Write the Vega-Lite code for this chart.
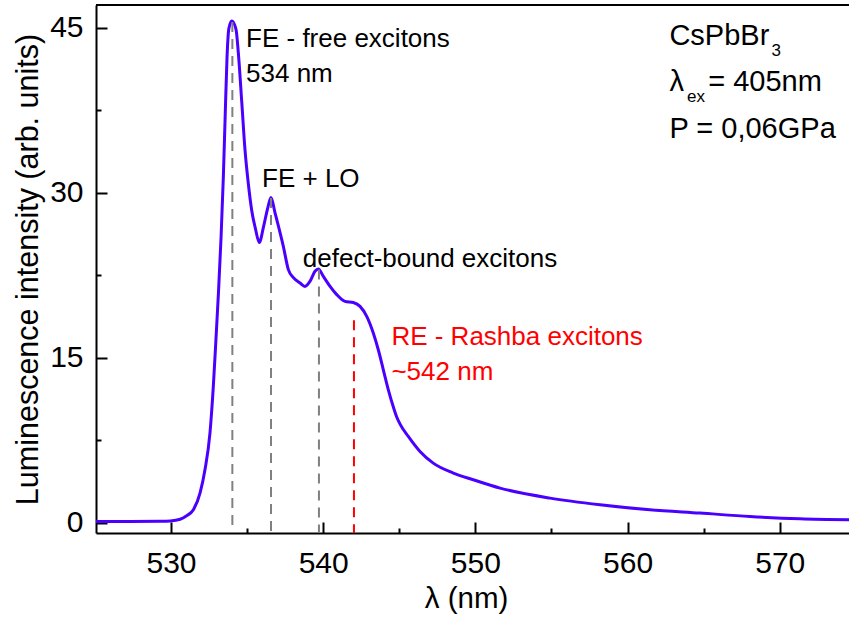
{
  "$schema": "https://vega.github.io/schema/vega-lite/v6.json",
  "autosize": "none",
  "width": 753,
  "height": 528,
  "padding": {"left": 96, "top": 5, "right": 0, "bottom": 86},
  "background": "white",
  "config": {
    "view": {"stroke": null},
    "font": "Liberation Sans",
    "axis": {"labelFont": "Liberation Sans", "titleFont": "Liberation Sans", "labelColor": "black", "titleColor": "black", "titleFontWeight": "normal", "domainColor": "black", "tickColor": "black", "grid": false}
  },
  "resolve": {"axis": {"x": "independent", "y": "independent"}},
  "datasets": {
    "spectrum": [
      {"nm": 525.07, "I": 0.1}, {"nm": 527.3, "I": 0.1}, {"nm": 529.3, "I": 0.12}, {"nm": 529.95, "I": 0.15},
      {"nm": 530.6, "I": 0.3}, {"nm": 531.0, "I": 0.6}, {"nm": 531.47, "I": 1.16}, {"nm": 531.91, "I": 2.7},
      {"nm": 532.23, "I": 4.8}, {"nm": 532.56, "I": 8.16}, {"nm": 532.78, "I": 12.4}, {"nm": 532.95, "I": 16.6},
      {"nm": 533.12, "I": 21.0}, {"nm": 533.29, "I": 26.0}, {"nm": 533.44, "I": 31.5}, {"nm": 533.57, "I": 37.5},
      {"nm": 533.68, "I": 42.3}, {"nm": 533.8, "I": 44.9}, {"nm": 533.99, "I": 45.59}, {"nm": 534.27, "I": 44.83},
      {"nm": 534.42, "I": 42.74}, {"nm": 534.65, "I": 38.19}, {"nm": 534.86, "I": 33.9}, {"nm": 535.08, "I": 30.8},
      {"nm": 535.3, "I": 28.4}, {"nm": 535.55, "I": 26.7}, {"nm": 535.8, "I": 25.45}, {"nm": 536.08, "I": 26.9},
      {"nm": 536.33, "I": 28.45}, {"nm": 536.57, "I": 29.55}, {"nm": 536.83, "I": 28.18}, {"nm": 537.38, "I": 25.11},
      {"nm": 537.71, "I": 22.99}, {"nm": 538.04, "I": 22.27}, {"nm": 538.48, "I": 21.78}, {"nm": 538.8, "I": 21.47},
      {"nm": 539.13, "I": 21.93}, {"nm": 539.46, "I": 22.84}, {"nm": 539.68, "I": 23.06}, {"nm": 540.01, "I": 22.38},
      {"nm": 540.45, "I": 21.47}, {"nm": 540.89, "I": 20.72}, {"nm": 541.43, "I": 20.11}, {"nm": 541.98, "I": 20.0},
      {"nm": 542.42, "I": 19.65}, {"nm": 542.86, "I": 18.74}, {"nm": 543.29, "I": 17.23}, {"nm": 543.62, "I": 15.71},
      {"nm": 543.95, "I": 13.89}, {"nm": 544.28, "I": 12.07}, {"nm": 544.61, "I": 10.5}, {"nm": 544.83, "I": 9.6},
      {"nm": 545.05, "I": 8.95}, {"nm": 545.59, "I": 7.83}, {"nm": 546.36, "I": 6.46}, {"nm": 547.23, "I": 5.4},
      {"nm": 548.55, "I": 4.5}, {"nm": 549.86, "I": 3.89}, {"nm": 551.62, "I": 3.13}, {"nm": 554.9, "I": 2.22},
      {"nm": 558.19, "I": 1.61}, {"nm": 561.47, "I": 1.16}, {"nm": 564.76, "I": 0.86}, {"nm": 568.04, "I": 0.55},
      {"nm": 571.33, "I": 0.34}, {"nm": 574.55, "I": 0.25}
    ],
    "markers": [
      {"nm": 534.03, "top": 45.5, "kind": "exciton"},
      {"nm": 536.57, "top": 29.5, "kind": "exciton"},
      {"nm": 539.72, "top": 23.0, "kind": "exciton"},
      {"nm": 542.02, "top": 18.4, "kind": "rashba"}
    ],
    "frame": [{"edge": "top"}],
    "notes": [
      {"nm": 534.93, "I": 43.26, "text": "FE - free excitons", "kind": "exciton"},
      {"nm": 534.93, "I": 40.08, "text": "534 nm", "kind": "exciton"},
      {"nm": 535.98, "I": 30.5, "text": "FE + LO", "kind": "exciton"},
      {"nm": 538.66, "I": 23.26, "text": "defect-bound excitons", "kind": "exciton"},
      {"nm": 544.48, "I": 16.15, "text": "RE - Rashba excitons", "kind": "rashba"},
      {"nm": 544.48, "I": 12.96, "text": "~542 nm", "kind": "rashba"},
      {"nm": 562.75, "I": 43.45, "text": "CsPbBr", "kind": "info"},
      {"nm": 562.75, "I": 39.2, "text": "λ", "kind": "info"},
      {"nm": 565.3, "I": 39.2, "text": "= 405nm", "kind": "info"},
      {"nm": 562.75, "I": 34.95, "text": "P = 0,06GPa", "kind": "info"},
      {"nm": 569.45, "I": 42.45, "text": "3", "kind": "sub"},
      {"nm": 563.9, "I": 38.2, "text": "ex", "kind": "sub"}
    ]
  },
  "layer": [
    {
      "data": {"name": "spectrum"},
      "mark": {"type": "line", "color": "#4a00ff", "strokeWidth": 3, "interpolate": "monotone", "clip": true},
      "encoding": {
        "x": {
          "field": "nm", "type": "quantitative",
          "scale": {"domain": [525.07, 574.55], "nice": false, "zero": false},
          "axis": {
            "orient": "bottom",
            "title": "λ (nm)", "titleFontSize": 29.5, "titlePadding": 6, "titleX": 370,
            "values": [530, 540, 550, 560, 570],
            "labelFontSize": 30, "labelPadding": 15, "ticks": false,
            "domainWidth": 2, "labelFlush": false
          }
        },
        "y": {
          "field": "I", "type": "quantitative",
          "scale": {"domain": [-0.95, 47.05], "nice": false, "zero": false},
          "axis": {
            "orient": "left",
            "title": "Luminescence intensity (arb. units)", "titleFontSize": 30.5, "titlePadding": 6,
            "values": [0, 15, 30, 45],
            "labelFontSize": 30, "labelPadding": 13, "ticks": false,
            "domainWidth": 2, "labelFlush": false
          }
        }
      }
    },
    {
      "data": {"name": "markers"},
      "transform": [{"filter": "datum.kind === 'exciton'"}],
      "mark": {"type": "rule", "color": "#808080", "strokeWidth": 2, "strokeDash": [10, 7]},
      "encoding": {
        "x": {"field": "nm", "type": "quantitative",
          "axis": {"orient": "bottom", "title": null, "values": [530, 540, 550, 560, 570], "labels": false, "domain": false, "tickSize": 11, "offset": -11, "tickWidth": 2}},
        "y": {"field": "top", "type": "quantitative",
          "axis": {"orient": "left", "title": null, "values": [0, 15, 30, 45], "labels": false, "domain": false, "tickSize": 11, "offset": -11, "tickWidth": 2}},
        "y2": {"datum": -0.95}
      }
    },
    {
      "data": {"name": "markers"},
      "transform": [{"filter": "datum.kind === 'rashba'"}],
      "mark": {"type": "rule", "color": "#ff0000", "strokeWidth": 2, "strokeDash": [10, 7]},
      "encoding": {
        "x": {"field": "nm", "type": "quantitative",
          "axis": {"orient": "bottom", "title": null, "values": [535, 545, 555, 565], "labels": false, "domain": false, "tickSize": 5, "offset": -5, "tickWidth": 2}},
        "y": {"field": "top", "type": "quantitative",
          "axis": {"orient": "left", "title": null, "values": [7.5, 22.5, 37.5], "labels": false, "domain": false, "tickSize": 5, "offset": -5, "tickWidth": 2}},
        "y2": {"datum": -0.95}
      }
    },
    {
      "data": {"name": "frame"},
      "mark": {"type": "rule", "color": "black", "strokeWidth": 2},
      "encoding": {"y": {"datum": 47.05, "type": "quantitative", "axis": null}}
    },
    {
      "data": {"name": "notes"},
      "transform": [{"filter": "datum.kind === 'exciton'"}],
      "mark": {"type": "text", "align": "left", "baseline": "alphabetic", "fontSize": 26, "color": "black", "font": "Liberation Sans"},
      "encoding": {
        "x": {"field": "nm", "type": "quantitative", "axis": null},
        "y": {"field": "I", "type": "quantitative", "axis": null},
        "text": {"field": "text"}
      }
    },
    {
      "data": {"name": "notes"},
      "transform": [{"filter": "datum.kind === 'info'"}],
      "mark": {"type": "text", "align": "left", "baseline": "alphabetic", "fontSize": 29, "color": "black", "font": "Liberation Sans"},
      "encoding": {
        "x": {"field": "nm", "type": "quantitative", "axis": null},
        "y": {"field": "I", "type": "quantitative", "axis": null},
        "text": {"field": "text"}
      }
    },
    {
      "data": {"name": "notes"},
      "transform": [{"filter": "datum.kind === 'rashba'"}],
      "mark": {"type": "text", "align": "left", "baseline": "alphabetic", "fontSize": 26, "color": "#ff0000", "font": "Liberation Sans"},
      "encoding": {
        "x": {"field": "nm", "type": "quantitative", "axis": null},
        "y": {"field": "I", "type": "quantitative", "axis": null},
        "text": {"field": "text"}
      }
    },
    {
      "data": {"name": "notes"},
      "transform": [{"filter": "datum.kind === 'sub'"}],
      "mark": {"type": "text", "align": "left", "baseline": "alphabetic", "fontSize": 17, "color": "black", "font": "Liberation Sans"},
      "encoding": {
        "x": {"field": "nm", "type": "quantitative", "axis": null},
        "y": {"field": "I", "type": "quantitative", "axis": null},
        "text": {"field": "text"}
      }
    }
  ]
}
